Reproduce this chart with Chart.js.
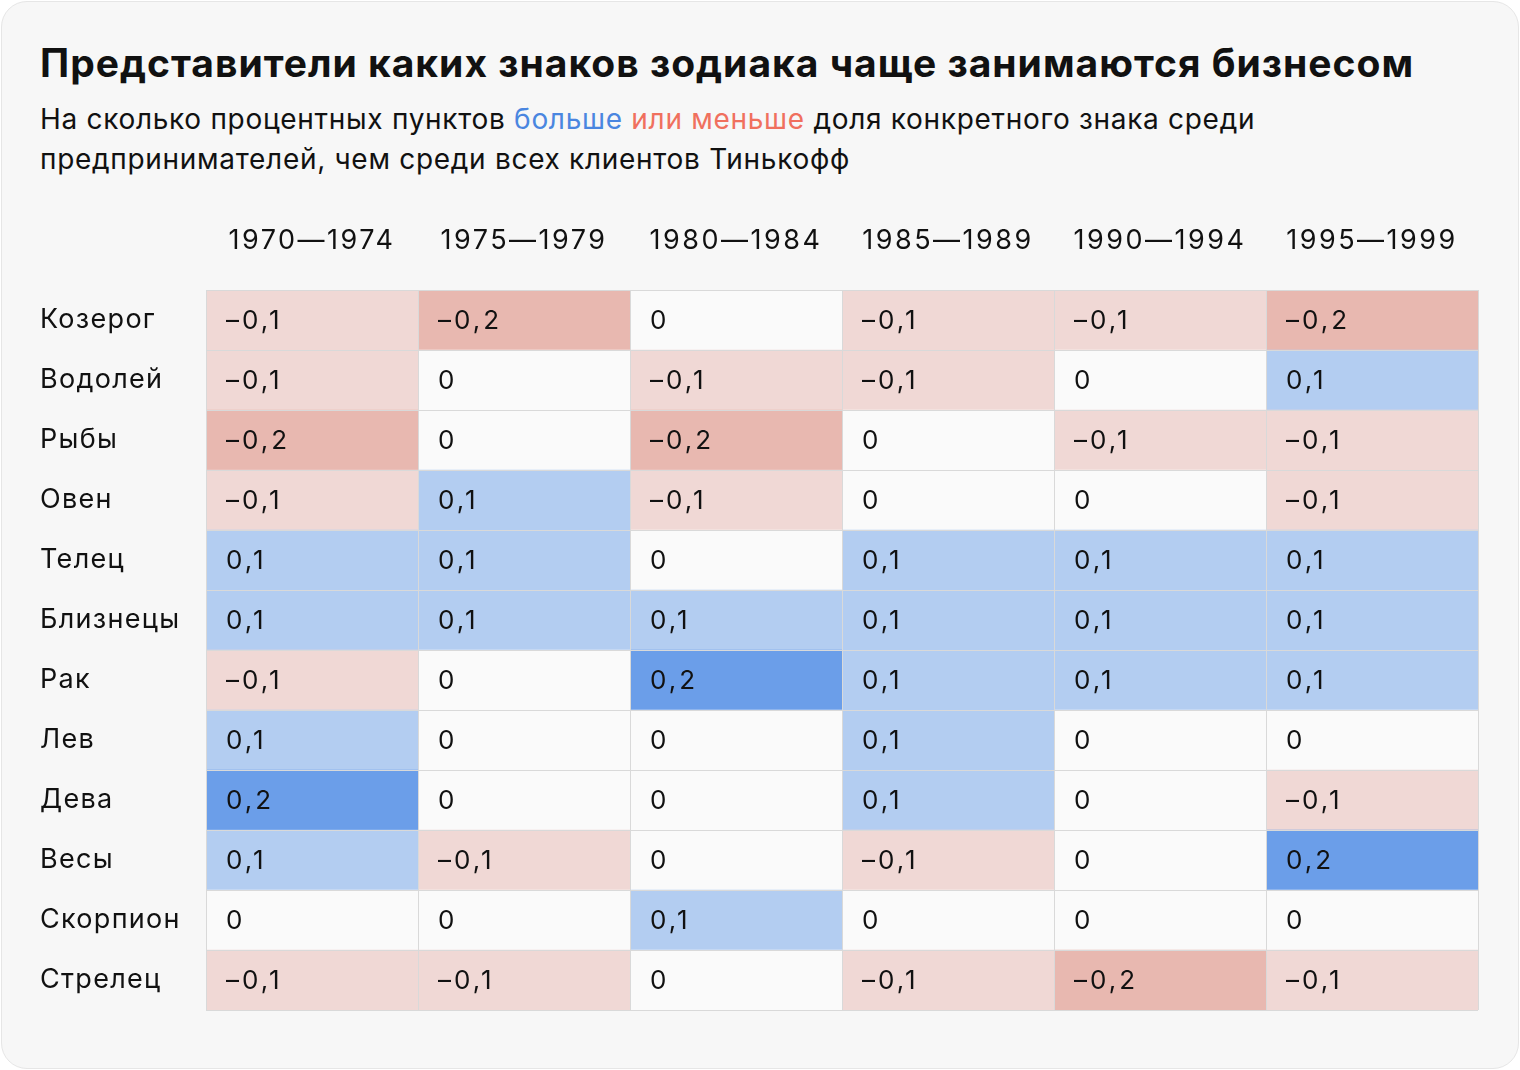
<!DOCTYPE html>
<html lang="ru">
<head>
<meta charset="utf-8">
<script src="https://cdn.jsdelivr.net/npm/chart.js@4"></script>
<style>
  body{margin:0;background:#fff;font-family:Inter, "Noto Sans", sans-serif;color:#111}
  .card{position:absolute;left:1px;top:1px;width:1516px;height:1066px;border:1px solid #e6e6e6;border-radius:26px;background:#f7f7f7}
  h1{position:absolute;left:40px;top:39px;margin:0;font-size:39px;font-weight:700;letter-spacing:1px;white-space:nowrap}
  .sub{position:absolute;left:40px;top:99px;margin:0;font-size:28px;line-height:40px;letter-spacing:0.7px;width:1400px}
  .up{color:#4a86e0}
  .down{color:#f0705e}
  .wrap{position:absolute;left:0;top:190px;width:1520px;height:860px}
</style>
</head>
<body>
<div class="card"></div>
<h1>Представители каких знаков зодиака чаще занимаются бизнесом</h1>
<p class="sub">На сколько процентных пунктов <span class="up">больше</span> <span class="down">или меньше</span> доля конкретного знака среди<br>предпринимателей, чем среди всех клиентов Тинькофф</p>
<div class="wrap"><canvas id="heat"></canvas></div>
<script>
const signs = ['Козерог','Водолей','Рыбы','Овен','Телец','Близнецы','Рак','Лев','Дева','Весы','Скорпион','Стрелец']
const periods = ['1970—1974','1975—1979','1980—1984','1985—1989','1990—1994','1995—1999']
// one array per period, values per sign (top to bottom)
const p1970 = [-0.1,-0.1,-0.2,-0.1, 0.1, 0.1,-0.1, 0.1, 0.2, 0.1, 0  ,-0.1]
const p1975 = [-0.2, 0  , 0  , 0.1, 0.1, 0.1, 0  , 0  , 0  ,-0.1, 0  ,-0.1]
const p1980 = [ 0  ,-0.1,-0.2,-0.1, 0  , 0.1, 0.2, 0  , 0  , 0  , 0.1, 0  ]
const p1985 = [-0.1,-0.1, 0  , 0  , 0.1, 0.1, 0.1, 0.1, 0.1,-0.1, 0  ,-0.1]
const p1990 = [-0.1, 0  ,-0.1, 0  , 0.1, 0.1, 0.1, 0  , 0  , 0  , 0  ,-0.2]
const p1995 = [-0.2, 0.1,-0.1,-0.1, 0.1, 0.1, 0.1, 0  ,-0.1, 0.2, 0  ,-0.1]
const columns = [p1970,p1975,p1980,p1985,p1990,p1995]

function cellColor(v){
  if(v <= -0.15) return '#e8b8b0'
  if(v < 0) return '#f0d8d5'
  if(v >= 0.15) return '#6b9ee9'
  if(v > 0) return '#b3cdf1'
  return '#fafafa'
}
function fmt(v){
  if(v === 0) return '0'
  return (v < 0 ? '–' : '') + Math.abs(v).toFixed(1).replace('.', ',')
}
// canvas letter spacing for one scale's labels
function spaced(scale, px){
  if(scale._spaced) return
  const orig = scale.drawLabels.bind(scale)
  scale.drawLabels = (area) => {
    const ctx = scale.ctx
    ctx.save(); ctx.letterSpacing = px
    orig(area)
    ctx.restore()
  }
  scale._spaced = true
}

Chart.defaults.font.family = 'Inter, "Noto Sans", sans-serif'
Chart.defaults.color = '#111'

const cellText = {
  id:'cellText',
  afterDatasetsDraw(chart){
    const ctx = chart.ctx
    ctx.save()
    ctx.font = '26px Inter, "Noto Sans", sans-serif'
    ctx.letterSpacing = '3px'
    ctx.fillStyle = '#111'
    ctx.textAlign = 'left'
    ctx.textBaseline = 'middle'
    chart.data.datasets.forEach((ds, i) => {
      chart.getDatasetMeta(i).data.forEach((el, j) => {
        ctx.fillText(fmt(ds.values[j]), Math.min(el.x, el.base) + 20, el.y + 1)
      })
    })
    ctx.restore()
  }
}

new Chart(document.getElementById('heat'), {
  type:'bar',
  data:{
    labels:signs,
    datasets:columns.map((col, i) => ({
      label:periods[i],
      values:col,
      data:col.map(() => [i, i + 1]),
      backgroundColor:col.map(cellColor),
      borderWidth:0,
      grouped:false,
      barPercentage:1,
      categoryPercentage:1
    }))
  },
  options:{
    indexAxis:'y',
    responsive:true,
    maintainAspectRatio:false,
    animation:false,
    layout:{padding:{left:40, right:42, top:0, bottom:40}},
    plugins:{legend:{display:false}, tooltip:{enabled:false}},
    scales:{
      x:{
        type:'linear',
        position:'top',
        min:0, max:6,
        afterBuildTicks(scale){ scale.ticks = periods.map((p, i) => ({value:i + 0.5})) },
        afterFit(scale){ scale.height = 100; spaced(scale, '2.5px') },
        ticks:{
          callback:(v) => periods[Math.floor(v)],
          font:{size:27},
          color:'#111',
          padding:33,
          maxRotation:0,
          autoSkip:false
        },
        grid:{offset:true, color:'#d9d9d9', lineWidth:1, drawTicks:false, z:1},
        border:{display:false}
      },
      y:{
        afterFit(scale){ scale.width = 166; spaced(scale, '1.3px') },
        ticks:{crossAlign:'far', font:{size:27}, color:'#111', autoSkip:false},
        grid:{color:'#d9d9d9', lineWidth:1, drawTicks:false, z:1},
        border:{display:false}
      }
    }
  },
  plugins:[cellText]
})
</script>
</body>
</html>
